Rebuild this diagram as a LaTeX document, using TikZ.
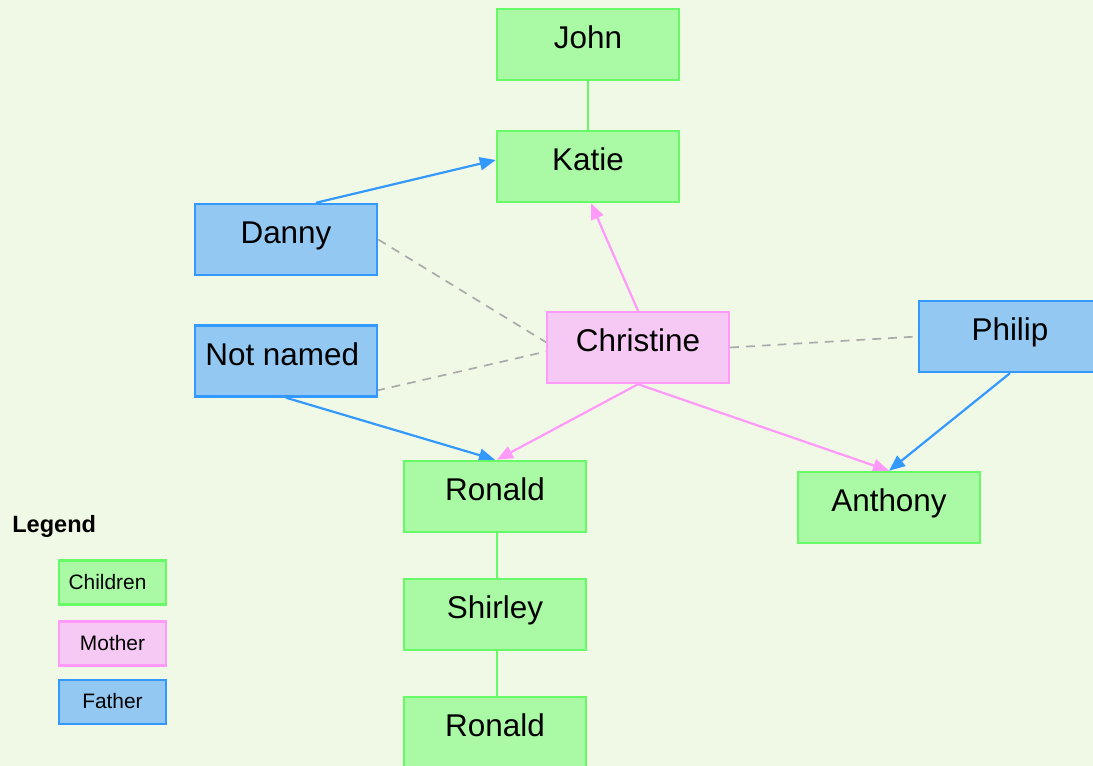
\documentclass[tikz,border=0pt]{standalone}
\usepackage{fontspec}
\setmainfont{Liberation Sans}
\usetikzlibrary{arrows.meta}
\definecolor{bgc}{RGB}{240,248,230}
\definecolor{gfill}{RGB}{170,250,165}
\definecolor{gline}{RGB}{102,250,102}
\definecolor{bfill}{RGB}{147,200,242}
\definecolor{bline}{RGB}{51,153,255}
\definecolor{pfill}{RGB}{246,200,244}
\definecolor{pline}{RGB}{255,153,250}
\definecolor{dgray}{RGB}{170,170,170}
\pgfdeclarelayer{bg}
\pgfdeclarelayer{edges}
\pgfsetlayers{bg,edges,main}
\tikzset{
  box/.style={rectangle, draw, line width=1.4pt, minimum width=3.64cm, minimum height=1.42cm,
    inner sep=0pt, text height=0.8cm, text depth=0.62cm, align=center,
    font=\fontsize{17.9}{20}\selectfont},
  kid/.style={box, fill=gfill, draw=gline},
  dad/.style={box, fill=bfill, draw=bline},
  mom/.style={box, fill=pfill, draw=pline},
  lbox/.style={rectangle, draw, line width=1.4pt, minimum width=2.14cm, minimum height=0.88cm,
    inner sep=0pt, text height=0.58cm, text depth=0.3cm, font=\fontsize{11.9}{13}\selectfont},
  tip/.style={-{Triangle[length=0.32cm,width=0.26cm]}},
  blueedge/.style={tip, draw=bline, fill=bline, line width=1.25pt},
  pinkedge/.style={tip, draw=pline, fill=pline, line width=1.25pt},
  greenedge/.style={draw=gline, line width=1pt},
  partner/.style={draw=dgray, dashed, dash pattern=on 5pt off 4pt, line width=0.95pt},
}
\begin{document}
\begin{tikzpicture}[x=0.02cm, y=-0.02cm]
\useasboundingbox (0,0) rectangle (1093,766);
\begin{pgfonlayer}{bg}
\fill[bgc] (0,0) rectangle (1093,766);
\end{pgfonlayer}
% nodes
\node[kid] (john) at (588,44.5) {John};
\node[kid] (katie) at (588,166.5) {Katie};
\node[dad] (danny) at (286,239.5) {Danny};
\node[dad] (notnamed) at (286,361) {Not named\kern0.15cm};
\node[mom] (christine) at (638,347.5) {Christine};
\node[dad] (philip) at (1010,336.5) {Philip};
\node[kid] (ronald) at (495,496.5) {Ronald};
\node[kid] (anthony) at (889,507.5) {Anthony};
\node[kid] (shirley) at (495,614.5) {Shirley};
\node[kid] (ronaldb) at (495,732.5) {Ronald};
\coordinate (cmeet) at (557,349);
% legend
\node[anchor=base west, inner sep=0pt, font=\fontsize{13.4}{15}\selectfont\bfseries] (legend) at (12,533) {Legend};
\node[lbox, fill=gfill, draw=gline] (lchildren) at (112.5,582.5) {Children\kern0.2cm};
\node[lbox, fill=pfill, draw=pline] (lmother) at (112.5,643.5) {Mother};
\node[lbox, fill=bfill, draw=bline] (lfather) at (112.5,702) {Father};
% edges
\begin{pgfonlayer}{edges}
\draw[greenedge] (john.south) -- (katie.north);
\draw[greenedge] ([xshift=0.04cm]ronald.south) -- ([xshift=0.04cm]shirley.north);
\draw[greenedge] ([xshift=0.04cm]shirley.south) -- ([xshift=0.04cm]ronaldb.north);
\draw[blueedge] ([xshift=0.6cm]danny.north) -- ([yshift=0.13cm]katie.west);
\draw[pinkedge] (christine.north) -- ([xshift=0.06cm]katie.south);
\draw[partner] (danny.east) -- (cmeet);
\draw[partner] ([yshift=0.14cm,xshift=-0.04cm]notnamed.south east) -- (cmeet);
\draw[partner] (christine.east) -- (philip.west);
\draw[blueedge] (notnamed.south) -- (ronald.north);
\draw[pinkedge] (christine.south) -- ([xshift=0.04cm]ronald.north);
\draw[pinkedge] (christine.south) -- (anthony.north);
\draw[blueedge] (philip.south) -- (anthony.north);
\end{pgfonlayer}
\end{tikzpicture}
\end{document}
